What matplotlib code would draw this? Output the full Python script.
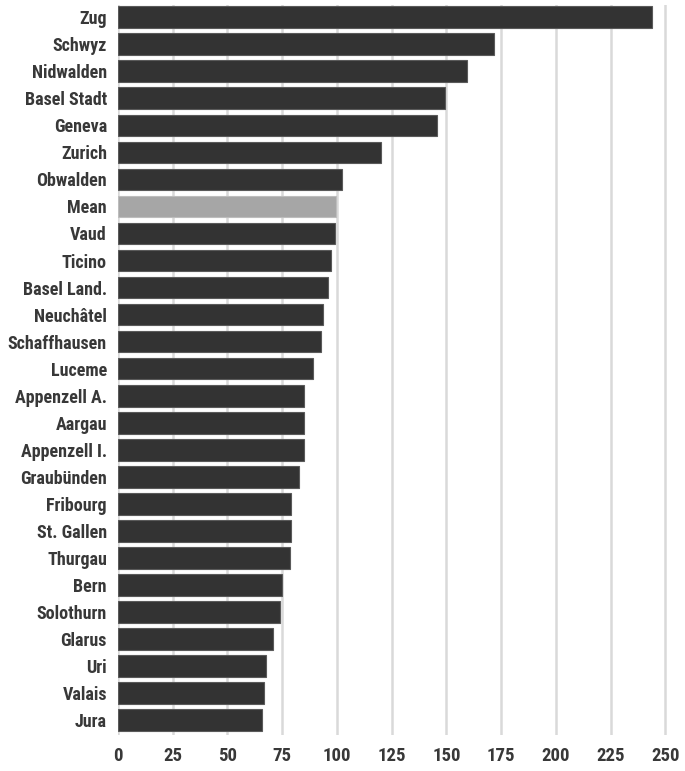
import matplotlib
matplotlib.use("Agg")
import matplotlib.pyplot as plt

cantons = ['Zug', 'Schwyz', 'Nidwalden', 'Basel Stadt', 'Geneva', 'Zurich', 'Obwalden',
           'Mean', 'Vaud', 'Ticino', 'Basel Land.', 'Neuchâtel', 'Schaffhausen', 'Luceme',
           'Appenzell A.', 'Aargau', 'Appenzell I.', 'Graubünden', 'Fribourg', 'St. Gallen',
           'Thurgau', 'Bern', 'Solothurn', 'Glarus', 'Uri', 'Valais', 'Jura']
values = [244.1, 171.9, 159.6, 149.5, 145.8, 120.0, 102.1,
          99.5, 99.2, 97.3, 96.0, 93.7, 92.5, 89.2,
          85.1, 84.8, 84.8, 82.8, 79.1, 78.8,
          78.5, 74.9, 74.1, 70.7, 67.6, 66.5, 65.6]
xticks = [0, 25, 50, 75, 100, 125, 150, 175, 200, 225, 250]

plt.rcParams['font.family'] = ['Roboto Condensed', 'DejaVu Sans']

fig = plt.figure(figsize=(6.85, 7.71), dpi=100)
ax = fig.add_axes([0.1723, 0.0467, 0.815, 0.9468])

colors = ['#a6a6a6' if c == 'Mean' else '#333333' for c in cantons]
edges = ['#bdbdbd' if c == 'Mean' else '#5a5a5a' for c in cantons]
ax.barh(range(len(cantons)), values, height=0.8, color=colors,
        edgecolor=edges, linewidth=0.8, zorder=3)

ax.set_xlim(0, 255)
ax.set_ylim(len(cantons) - 0.45, -0.45)
ax.set_xticks(xticks)
ax.set_yticks(range(len(cantons)))
ax.set_yticklabels(cantons)
ax.grid(axis='x', color='#d9d9d9', linewidth=1.8, zorder=0)
ax.set_axisbelow(True)
for s in ax.spines.values():
    s.set_visible(False)
ax.tick_params(axis='both', length=0, labelsize=13, labelcolor='#383838')
ax.tick_params(axis='y', pad=8)
ax.tick_params(axis='x', labelsize=13.5, pad=9)
for lbl in ax.get_xticklabels() + ax.get_yticklabels():
    lbl.set_fontweight('bold')

plt.savefig('out.png', dpi=100)
plt.close()
